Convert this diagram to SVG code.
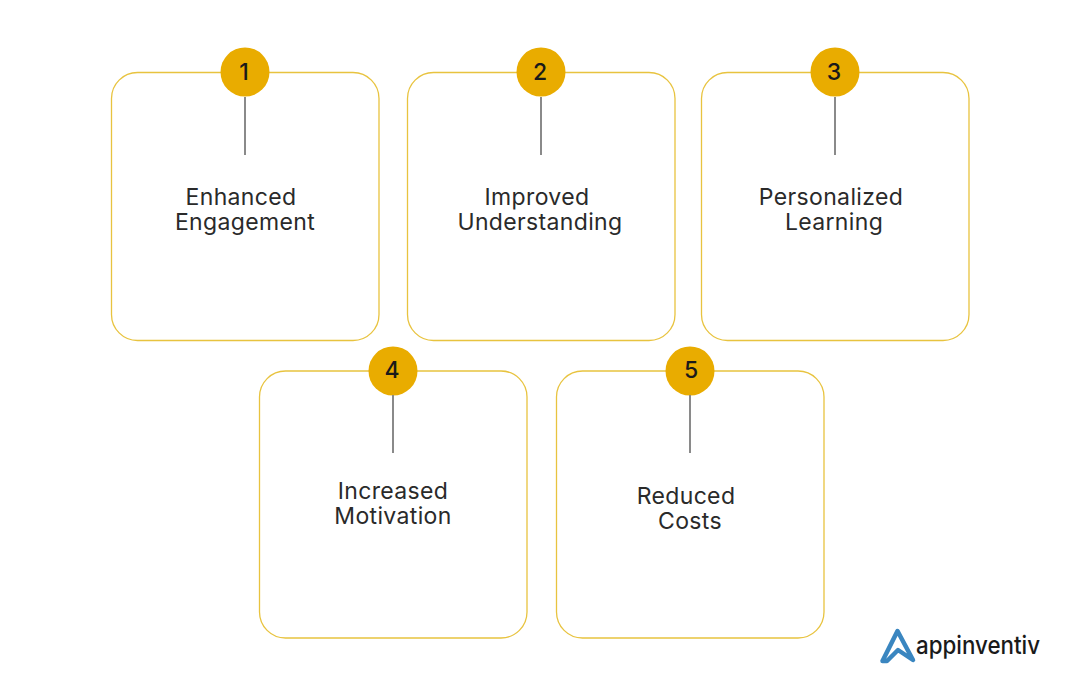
<svg xmlns="http://www.w3.org/2000/svg" width="1080" height="682" viewBox="0 0 1080 682">
<style>
.card{fill:#fff;stroke:#e8c33f;stroke-width:1.3}
.dot{fill:#e9ac00}
.num{font:500 23px Inter,"Liberation Sans",sans-serif;fill:#1a1a1a;text-anchor:middle}
.lbl{font:400 23px Inter,"Open Sans","Liberation Sans",sans-serif;fill:#2a2a2a;text-anchor:middle;letter-spacing:.35px}
.conn{stroke:#8a8a8a;stroke-width:2;fill:none}
.logo{font:500 25px Inter,"Liberation Sans",sans-serif;fill:#1a1a1a}
</style>
<rect width="1080" height="682" fill="#fff"/>
<g id="node-1"><rect class="card" x="111.500" y="72.500" width="267.500" height="268" rx="26"/><circle class="dot" cx="245" cy="72" r="24.500"/><text class="num" x="244" y="80">1</text><text class="lbl" x="241" y="205">Enhanced</text><text class="lbl" x="245" y="230">Engagement</text></g>
<g id="node-2"><rect class="card" x="407.500" y="72.500" width="267.500" height="268" rx="26"/><circle class="dot" cx="541" cy="72" r="24.500"/><text class="num" x="540" y="80">2</text><text class="lbl" x="537" y="205">Improved</text><text class="lbl" x="540" y="230">Understanding</text></g>
<g id="node-3"><rect class="card" x="701.500" y="72.500" width="267.500" height="268" rx="26"/><circle class="dot" cx="835" cy="72" r="24.500"/><text class="num" x="834" y="80">3</text><text class="lbl" x="831" y="205">Personalized</text><text class="lbl" x="834" y="230">Learning</text></g>
<g id="node-4"><rect class="card" x="259.500" y="371" width="267.500" height="267" rx="26"/><circle class="dot" cx="393" cy="371" r="24.500"/><text class="num" x="392" y="378">4</text><text class="lbl" x="393" y="499">Increased</text><text class="lbl" x="393" y="524">Motivation</text></g>
<g id="node-5"><rect class="card" x="556.500" y="371" width="267.500" height="267" rx="26"/><circle class="dot" cx="690" cy="371" r="24.500"/><text class="num" x="691" y="378">5</text><text class="lbl" x="686" y="504">Reduced</text><text class="lbl" x="690" y="529">Costs</text></g>
<g id="connectors">
<path class="conn" d="M245 97V155"/><path class="conn" d="M541 97V155"/><path class="conn" d="M835 97V155"/><path class="conn" d="M393 395V453"/><path class="conn" d="M690 395V453"/>
</g>
<g id="logo"><path d="M882.500 661L897.500 631L913 660L898 650L887 661Z" fill="none" stroke="#3a86c0" stroke-width="4.500" stroke-linejoin="round" stroke-linecap="round"/><text class="logo" x="916" y="654" textLength="124" lengthAdjust="spacingAndGlyphs">appinventiv</text></g>
</svg>
